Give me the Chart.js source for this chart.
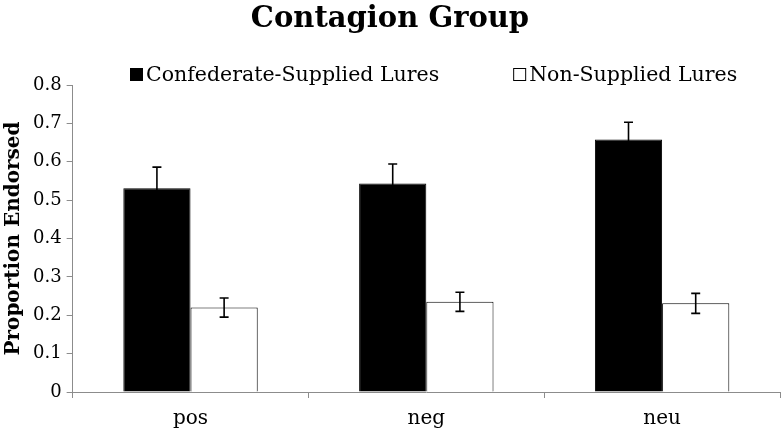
<!DOCTYPE html>
<html>
<head>
<meta charset="utf-8">
<script src="https://cdn.jsdelivr.net/npm/chart.js@4/dist/chart.umd.min.js"></script>
<style>
html,body{margin:0;padding:0;background:#fff;}
#wrap{width:782px;height:435px;position:relative;}
</style>
</head>
<body>
<div id="wrap"><canvas id="c" width="782" height="435"></canvas></div>
<script>
const categories = ['pos', 'neg', 'neu'];
const seriesNames = ['Confederate-Supplied Lures', 'Non-Supplied Lures'];
const confederateValues = [0.531, 0.543, 0.658];
const confederateErrors = [0.055, 0.051, 0.045];
const nonSuppliedValues = [0.220, 0.235, 0.231];
const nonSuppliedErrors = [0.025, 0.025, 0.026];
const yTicks = [0, 0.1, 0.2, 0.3, 0.4, 0.5, 0.6, 0.7, 0.8];

const SERIF = '"DejaVu Serif", "Liberation Serif", serif';

const errorBars = {
  id: 'errorBars',
  afterDatasetsDraw(chart) {
    const ctx = chart.ctx;
    const y = chart.scales.y;
    chart.data.datasets.forEach((ds, di) => {
      const meta = chart.getDatasetMeta(di);
      meta.data.forEach((bar, i) => {
        const v = ds.data[i], e = ds.errors[i];
        const top = y.getPixelForValue(v + e);
        const bot = y.getPixelForValue(v - e);
        const x = bar.x;
        ctx.save();
        ctx.strokeStyle = '#000';
        ctx.lineWidth = 1.6;
        ctx.beginPath();
        ctx.moveTo(x, top); ctx.lineTo(x, bot);
        ctx.moveTo(x - 4.5, top); ctx.lineTo(x + 4.5, top);
        ctx.moveTo(x - 4.5, bot); ctx.lineTo(x + 4.5, bot);
        ctx.stroke();
        ctx.restore();
      });
    });
  }
};

const customLegend = {
  id: 'customLegend',
  afterDraw(chart) {
    const ctx = chart.ctx;
    ctx.save();
    ctx.font = '20.5px ' + SERIF;
    ctx.textBaseline = 'alphabetic';
    const box = 13, baseY = 81;
    const fills = ['#000', '#fff'];
    let x = 130;
    seriesNames.forEach((name, i) => {
      ctx.fillStyle = fills[i];
      ctx.fillRect(x, baseY - box, box, box);
      ctx.strokeStyle = '#000';
      ctx.lineWidth = 1;
      ctx.strokeRect(x + 0.5, baseY - box + 0.5, box - 1, box - 1);
      ctx.fillStyle = '#000';
      const tx = x + box + 3;
      ctx.fillText(name, tx, baseY);
      x = tx + ctx.measureText(name).width + 74;
    });
    ctx.restore();
  }
};

new Chart(document.getElementById('c'), {
  type: 'bar',
  data: {
    labels: categories,
    datasets: [
      { label: seriesNames[0], data: confederateValues, errors: confederateErrors,
        backgroundColor: '#000', borderColor: '#000', borderWidth: 1,
        categoryPercentage: 0.57, barPercentage: 1.0 },
      { label: seriesNames[1], data: nonSuppliedValues, errors: nonSuppliedErrors,
        backgroundColor: '#fff', borderColor: '#000', borderWidth: 1,
        categoryPercentage: 0.57, barPercentage: 1.0 }
    ]
  },
  options: {
    responsive: false,
    animation: false,
    layout: { padding: { top: 0, right: 2, bottom: -5, left: 0 } },
    plugins: {
      legend: { display: false },
      tooltip: { enabled: false },
      title: {
        display: true,
        text: 'Contagion Group',
        color: '#000',
        font: { family: SERIF, size: 29, weight: 'bold', lineHeight: 1.0 },
        padding: { top: 5, bottom: 51 }
      }
    },
    scales: {
      x: {
        grid: { display: true, drawOnChartArea: false, drawTicks: true, tickLength: 6, color: '#8c8c8c', offset: true },
        border: { display: true, color: '#8c8c8c', width: 1 },
        ticks: { color: '#000', font: { family: SERIF, size: 20 }, padding: 9 }
      },
      y: {
        min: 0, max: 0.8,
        afterBuildTicks(axis) { axis.ticks = yTicks.map(v => ({ value: v })); },
        grid: { display: true, drawOnChartArea: false, drawTicks: true, tickLength: 6, color: '#8c8c8c' },
        border: { display: true, color: '#8c8c8c', width: 1 },
        ticks: { color: '#000', font: { family: SERIF, size: 18 }, padding: 5,
          callback: v => (Math.round(v * 10) / 10).toString() },
        title: { display: true, text: 'Proportion Endorsed', color: '#000',
          font: { family: SERIF, size: 20, weight: 'bold' }, padding: { top: 2, bottom: 2 } }
      }
    }
  },
  plugins: [errorBars, customLegend]
});
</script>
</body>
</html>
